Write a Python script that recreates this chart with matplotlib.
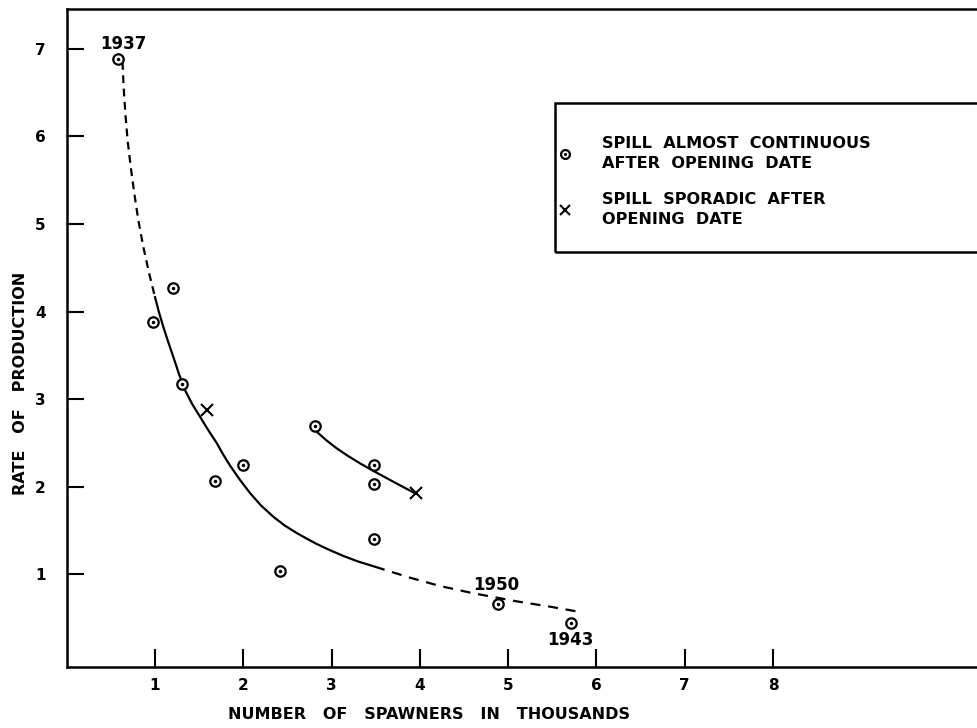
import matplotlib
matplotlib.use("Agg")
import matplotlib.pyplot as plt
from matplotlib.patches import Rectangle
from matplotlib.legend_handler import HandlerTuple

# ---- data ----
circ_x = [0.58, 1.20, 0.98, 1.30, 1.68, 2.00, 2.42, 2.81, 3.48, 3.48, 3.48, 4.89, 5.71]
circ_y = [6.88, 4.27, 3.88, 3.17, 2.06, 2.25, 1.04, 2.69, 2.25, 2.03, 1.40, 0.66, 0.44]
cross_x = [1.59, 3.96]
cross_y = [2.87, 1.93]

curve_up_x = [0.632, 0.645, 0.665, 0.690, 0.725, 0.765, 0.810, 0.865, 0.930, 1.000]
curve_up_y = [6.85, 6.55, 6.25, 5.95, 5.65, 5.35, 5.05, 4.75, 4.45, 4.164]
curve_mid_x = [1.000, 1.045, 1.094, 1.150, 1.207, 1.270, 1.340, 1.420, 1.510, 1.600,
               1.699, 1.770, 1.850, 1.960, 2.076, 2.200, 2.340, 2.470, 2.605, 2.720,
               2.831, 2.980, 3.129, 3.300, 3.492]
curve_mid_y = [4.164, 3.990, 3.825, 3.650, 3.483, 3.290, 3.102, 2.945, 2.798, 2.650,
               2.498, 2.370, 2.240, 2.080, 1.927, 1.785, 1.656, 1.555, 1.470, 1.405,
               1.345, 1.275, 1.210, 1.145, 1.085]
curve_low_x = [3.492, 3.888, 4.228, 4.605, 5.096, 5.473, 5.794]
curve_low_y = [1.085, 0.960, 0.865, 0.782, 0.690, 0.629, 0.572]
curve2_x = [2.831, 2.940, 3.058, 3.190, 3.322, 3.472, 3.699, 3.945]
curve2_y = [2.627, 2.530, 2.437, 2.348, 2.266, 2.180, 2.056, 1.924]

year_labels = ["1937", "1950", "1943"]
year_x = [0.64, 4.87, 5.71]
year_y = [7.06, 0.88, 0.25]

x_ticks = [1, 2, 3, 4, 5, 6, 7, 8]
y_ticks = [1, 2, 3, 4, 5, 6, 7]

legend_labels = ["SPILL  ALMOST  CONTINUOUS\nAFTER  OPENING  DATE",
                 "SPILL  SPORADIC  AFTER\nOPENING  DATE"]
xlabel = "NUMBER   OF   SPAWNERS   IN   THOUSANDS"
ylabel = "RATE   OF   PRODUCTION"

# ---- figure ----
plt.rcParams['font.family'] = ['DejaVu Sans']
plt.rcParams['font.weight'] = 'bold'
fig = plt.figure(figsize=(9.77, 7.28), dpi=100)
ax = fig.add_axes([0.0683, 0.0838, 0.9317, 0.9032])
ax.set_xlim(0, 10.31)
ax.set_ylim(-0.06, 7.45)

lw = 1.6
ax.plot(curve_up_x, curve_up_y, color='black', lw=lw, ls=(0, (3.5, 2.5)))
ax.plot(curve_mid_x, curve_mid_y, color='black', lw=lw)
ax.plot(curve_low_x, curve_low_y, color='black', lw=lw, ls=(0, (4.5, 3.5)))
ax.plot(curve2_x, curve2_y, color='black', lw=lw)

circ = ax.plot(circ_x, circ_y, ls='none', marker='o', ms=7.5, mfc='white',
               mec='black', mew=1.6, zorder=3)[0]
dot = ax.plot(circ_x, circ_y, ls='none', marker='o', ms=1.5, mfc='black',
              mec='black', zorder=4)[0]
cross = ax.plot(cross_x, cross_y, ls='none', marker='x', ms=9, mec='black',
                mew=1.5, zorder=3)[0]

for t, x, y in zip(year_labels, year_x, year_y):
    ax.text(x, y, t, ha='center', va='center', fontsize=12, fontweight='bold')

# spines / ticks
for s in ['left', 'bottom', 'top']:
    ax.spines[s].set_linewidth(1.8)
ax.spines['right'].set_visible(False)
ax.set_xticks(x_ticks)
ax.set_yticks(y_ticks)
ax.set_xticklabels([str(v) for v in x_ticks])
ax.set_yticklabels([str(v) for v in y_ticks])
ax.tick_params(axis='x', direction='in', length=13, width=1.5, pad=8, labelsize=11)
ax.tick_params(axis='y', direction='in', length=12, width=1.5, pad=15, labelsize=11)

ax.text(4.1, -0.6, xlabel, ha='center', va='center', fontsize=11.5, fontweight='bold')
ax.text(-0.52, 3.18, ylabel, ha='center', va='center', rotation=90,
        fontsize=11.5, fontweight='bold')

# legend box
ax_w, ax_h = 910.3, 657.5
box = Rectangle(((555 - 66.7) / ax_w, (667 - 252) / ax_h), 0.48, 149 / ax_h,
                transform=ax.transAxes, fill=False, lw=1.8, ec='black', clip_on=False)
ax.add_patch(box)
leg = ax.legend([(circ, dot), cross], legend_labels,
                handler_map={tuple: HandlerTuple(ndivide=1, pad=0)},
                loc='upper left', bbox_to_anchor=((556 - 66.7) / ax_w, (667 - 136) / ax_h),
                frameon=False, fontsize=11.6, handlelength=1.1, handletextpad=1.75,
                labelspacing=1.25, borderpad=0, borderaxespad=0, markerscale=0.85)
for t in leg.get_texts():
    t.set_linespacing(1.45)

fig.savefig("out.png", dpi=100)
